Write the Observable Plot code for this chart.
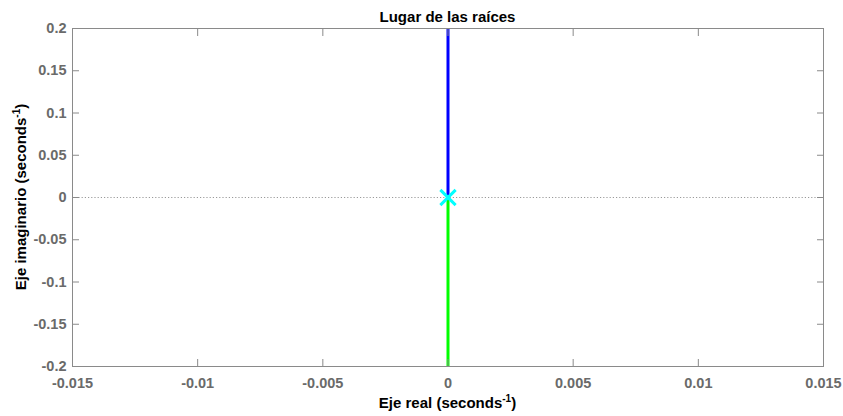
<!DOCTYPE html>
<html>
<head>
<meta charset="utf-8">
<script src="https://cdn.jsdelivr.net/npm/d3@7"></script>
<script src="https://cdn.jsdelivr.net/npm/@observablehq/plot@0.6"></script>
<style>
  html, body { margin: 0; padding: 0; background: #fff; }
  svg { display: block; }
</style>
</head>
<body>
<div id="chart"></div>
<script>
// Root locus branches (real part, imaginary part) in seconds^-1
const upperRe = [0, 0];
const upperIm = [0, 0.3];
const lowerRe = [0, 0];
const lowerIm = [0, -0.3];
// Open-loop pole
const poleRe = [0];
const poleIm = [0];

// Axis ticks
const xTicks = [-0.015, -0.01, -0.005, 0, 0.005, 0.01, 0.015];
const yTicks = [-0.2, -0.15, -0.1, -0.05, 0, 0.05, 0.1, 0.15, 0.2];

const titleText = "Lugar de las raíces";
const xLabelText = "Eje real (seconds";
const yLabelText = "Eje imaginario (seconds";

const upper = upperRe.map((x, i) => ({x, y: upperIm[i]}));
const lower = lowerRe.map((x, i) => ({x, y: lowerIm[i]}));
const poles = poleRe.map((x, i) => ({x, y: poleIm[i]}));

const fmt = d => {
  if (Math.abs(d) < 1e-12) return "0";
  return String(Math.round(d * 1000) / 1000);
};

const font = "'Liberation Sans', Arial, Helvetica, sans-serif";
const W = 843, H = 416;
const mL = 72, mR = 20, mT = 28, mB = 50;

const plot = Plot.plot({
  width: W,
  height: H,
  marginLeft: mL,
  marginRight: mR,
  marginTop: mT,
  marginBottom: mB,
  style: {fontFamily: font, background: "#fff", overflow: "visible"},
  x: {domain: [-0.015, 0.015], ticks: xTicks},
  y: {domain: [-0.2, 0.2], ticks: yTicks},
  marks: [
    Plot.ruleY([0], {stroke: "#9a9a9a", strokeWidth: 1, strokeDasharray: "1.2,2"}),
    Plot.ruleX([0], {stroke: "#9a9a9a", strokeWidth: 1, strokeDasharray: "1.2,2"}),
    Plot.line(upper, {x: "x", y: "y", stroke: "#0000ff", strokeWidth: 3, clip: true}),
    Plot.line(lower, {x: "x", y: "y", stroke: "#00ff00", strokeWidth: 3, clip: true}),
    Plot.dot(poles, {x: "x", y: "y", symbol: "times", r: 7, stroke: "#00ffff", strokeWidth: 3}),
    Plot.frame({stroke: "#8a8a8a", strokeWidth: 1}),
    Plot.axisX({anchor: "bottom", ticks: xTicks, tickSize: -7, tickPadding: 18, tickFormat: fmt,
      label: null, stroke: "#8a8a8a", color: "#6a6a6a", fontSize: 14.5, fontWeight: "bold"}),
    Plot.axisX({anchor: "top", ticks: xTicks, tickSize: -7, tickFormat: () => "", label: null, stroke: "#8a8a8a"}),
    Plot.axisY({anchor: "left", ticks: yTicks, tickSize: -7, tickPadding: 13, tickFormat: fmt,
      label: null, stroke: "#8a8a8a", color: "#6a6a6a", fontSize: 14.5, fontWeight: "bold"}),
    Plot.axisY({anchor: "right", ticks: yTicks, tickSize: -7, tickFormat: () => "", label: null, stroke: "#8a8a8a"})
  ]
});

document.getElementById("chart").appendChild(plot);

// Title and axis labels with superscript exponents
const svg = d3.select(plot);
const cx = mL + (W - mL - mR) / 2;
const cy = mT + (H - mT - mB) / 2;

svg.append("text")
  .attr("x", cx).attr("y", 22)
  .attr("text-anchor", "middle")
  .attr("font-family", font).attr("font-size", 15).attr("font-weight", "bold")
  .attr("fill", "#000")
  .text(titleText);

function labelWithExp(g, base) {
  g.append("tspan").text(base);
  g.append("tspan").attr("dy", -6).attr("font-size", 10).text("-1");
  g.append("tspan").attr("dy", 6).text(")");
}

const xl = svg.append("text")
  .attr("x", cx).attr("y", 408)
  .attr("text-anchor", "middle")
  .attr("font-family", font).attr("font-size", 15).attr("font-weight", "bold")
  .attr("fill", "#000");
labelWithExp(xl, xLabelText);

const yl = svg.append("text")
  .attr("transform", `translate(26,${cy}) rotate(-90)`)
  .attr("text-anchor", "middle")
  .attr("font-family", font).attr("font-size", 15).attr("font-weight", "bold")
  .attr("fill", "#000");
labelWithExp(yl, yLabelText);
</script>
</body>
</html>
